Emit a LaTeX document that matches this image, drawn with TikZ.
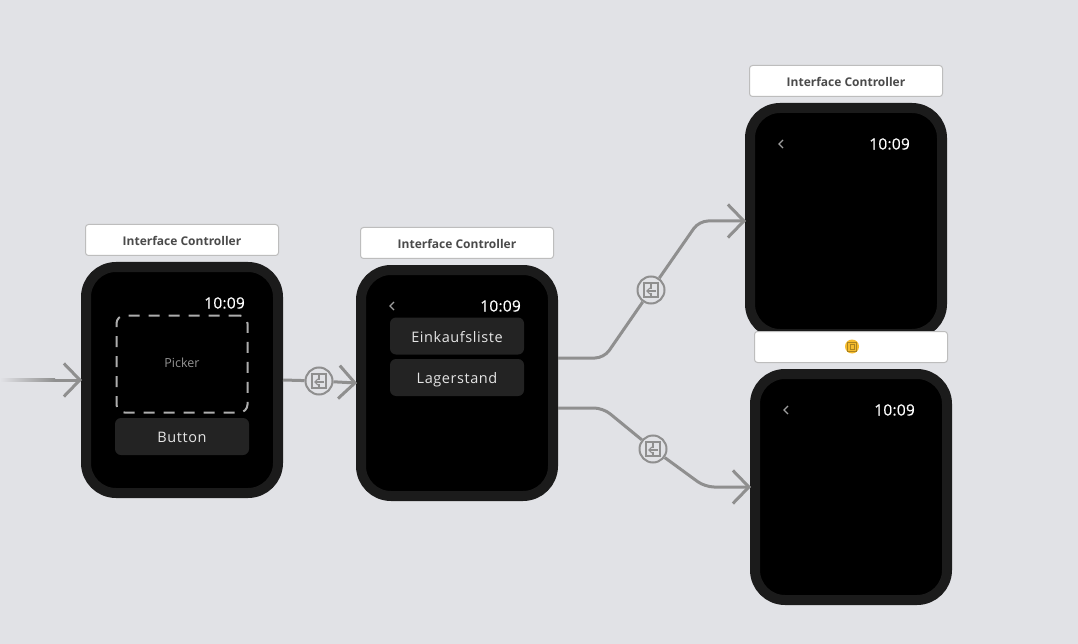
\documentclass[tikz,border=0pt]{standalone}
\usepackage{fontspec}
\setmainfont{Open Sans}
\usetikzlibrary{arrows.meta}
\definecolor{canvas}{HTML}{E1E2E6}
\definecolor{bezel}{HTML}{1B1B1B}
\definecolor{segcol}{HTML}{8F8F8F}
\definecolor{btncol}{HTML}{232323}
\definecolor{titleline}{HTML}{BDBDBD}
\definecolor{titletext}{HTML}{4A4A4A}
\definecolor{entrycol}{HTML}{F6BC2E}
\tikzset{
	watch/.style={rectangle, draw=bezel, fill=black, line width=10pt, minimum width=192pt, minimum height=226pt, rounded corners=30pt, inner sep=0pt},
	title/.style={rectangle, draw=titleline, fill=white, line width=1pt, minimum width=193pt, minimum height=31pt, rounded corners=3pt, inner sep=0pt, text=titletext, text height=11pt, text depth=0pt, font=\bfseries\fontsize{12}{14}\selectfont},
	clock/.style={text=white, anchor=east, inner sep=0pt, font=\fontsize{15.5}{18}\selectfont\addfontfeatures{LetterSpace=1.5,FakeBold=0.3}},
	btn/.style={rectangle, fill=btncol, minimum width=134pt, minimum height=37pt, rounded corners=6pt, inner sep=0pt, text=white!90!black, text height=12pt, text depth=0pt, font=\fontsize{14.5}{16}\selectfont\addfontfeatures{LetterSpace=4}},
	picker/.style={rectangle, draw=white!68!black, line width=2pt, dash pattern=on 11pt off 9pt, minimum width=131pt, minimum height=97pt, rounded corners=8pt, inner sep=0pt, text=white!58!black, text depth=3pt, font=\fontsize{12.5}{15}\selectfont},
	segue/.style={circle, draw=segcol, fill=canvas, line width=2pt, minimum size=27pt, inner sep=0pt},
	link/.style={draw=segcol, line width=3pt, rounded corners=9pt},
	arrowlink/.style={link, shorten >=-1pt, -{Straight Barb[length=16pt, width=33pt, line width=3pt]}},
	segue icon/.pic={
		\draw[segcol, line width=1.8pt] (-7,-7) rectangle (7,7);
		\draw[segcol, line width=1.5pt] (0,-7) -- (0,-1) (0,3) -- (0,7);
		\draw[segcol, line width=1.2pt, -{Straight Barb[length=3pt, width=6pt]}] (5,1) -- (-5,1);
	},
	back/.pic={
		\draw[white!62!black, line width=1.2pt] (2,-4) -- (-2,0) -- (2,4);
	},
	entry icon/.pic={
		\draw[black!30!entrycol, line width=.8pt] (-4.5,-4.5) rectangle (4.5,4.5);
		\draw[black!30!entrycol, line width=.8pt] (-2,-2.5) rectangle (2,2.5);
	}
}
\begin{document}
\begin{tikzpicture}[x=1pt, y=-1pt]
	\fill[canvas] (0,0) rectangle (1078,644);
	\useasboundingbox (0,0) rectangle (1078,644);

	\node[watch] (watcha) at (182,380){};
	\node[watch] (watchb) at (457,383){};
	\node[watch] (watchc) at (846,221){};
	\node[watch] (watchd) at (851,487){};

	\node[title] (titlea) at (182,240){Interface Controller};
	\node[title] (titleb) at (457,243){Interface Controller};
	\node[title] (titlec) at (846,81){Interface Controller};
	\node[title] (titled) at (851,347){};
	\node[circle, fill=entrycol, minimum size=14pt, inner sep=0pt] (entry) at (852,346.5){};
	\pic at (entry) {entry icon};

	\node[clock] (clocka) at (245,303){10:09};
	\node[clock] (clockb) at (521,306){10:09};
	\node[clock] (clockc) at (910,144){10:09};
	\node[clock] (clockd) at (915,410){10:09};
	\pic at (392,306) {back};
	\pic at (781,144) {back};
	\pic at (786,410) {back};

	\node[picker] (picker) at (182,364){Picker};
	\node[btn] (button) at (182,436.5){Button};
	\node[btn] (einkauf) at (457,336){Einkaufsliste};
	\node[btn] (lager) at (457,377.5){Lagerstand};

	\node[segue] (seguea) at (319,381){};
	\node[segue] (segueb) at (651,290){};
	\node[segue] (seguec) at (653,449){};
	\pic at (seguea) {segue icon};
	\pic at (segueb) {segue icon};
	\pic at (seguec) {segue icon};

	\coordinate (start) at (0,378.5);
	\coordinate (startend) at (55,380);
	\coordinate (bendb) at (604,358);
	\coordinate (bendc) at (699,221);
	\coordinate (bendd) at (603,408);
	\coordinate (bende) at (705,487);

	\shade[left color=canvas, right color=segcol] (start) rectangle (55,381.5);
	\path[arrowlink] (startend) -- (watcha.west);

	\path[link] (watcha.east) -- (seguea);
	\path[arrowlink] (seguea) -- (watchb.west);

	\path[link] ([yshift=25pt]watchb.east) -- (bendb) -- (segueb);
	\path[arrowlink] (segueb) -- (bendc) -- (watchc.west);
	\path[link] ([yshift=-25pt]watchb.east) -- (bendd) -- (seguec);
	\path[arrowlink] (seguec) -- (bende) -- (watchd.west);
\end{tikzpicture}
\end{document}
